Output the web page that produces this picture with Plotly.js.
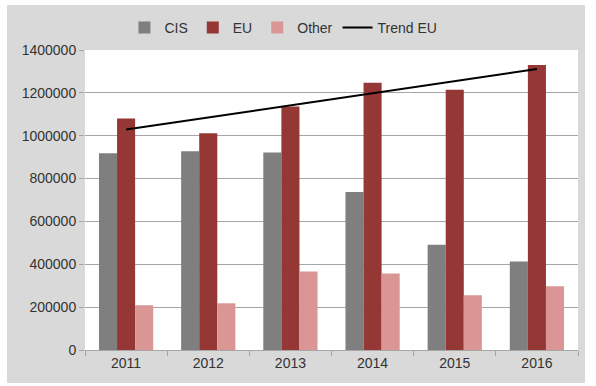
<!DOCTYPE html>
<html>
<head>
<meta charset="utf-8">
<script src="https://cdn.plot.ly/plotly-3.0.1.min.js"></script>
<style>
html,body{margin:0;padding:0;background:#fff;width:596px;height:386px;overflow:hidden;}
#chart{position:absolute;left:7px;top:5px;width:578px;height:378px;}
</style>
</head>
<body>
<div id="chart"></div>
<script>
const years = ['2011','2012','2013','2014','2015','2016'];
const cis = [918000, 927000, 922000, 737000, 491000, 413000];
const eu = [1080000, 1011000, 1136000, 1247000, 1215000, 1330000];
const other = [209000, 218000, 366000, 357000, 255000, 297000];
const trendYears = ['2011','2016'];
const trendEU = [1029000, 1311000];

const font = {family: 'Liberation Sans, Arial, sans-serif', size: 14, color: '#333333'};

const data = [
  {type:'bar', name:'CIS', x:years, y:cis, marker:{color:'#7f7f7f'}},
  {type:'bar', name:'EU', x:years, y:eu, marker:{color:'#953735'}},
  {type:'bar', name:'Other', x:years, y:other, marker:{color:'#d99694'}},
  {type:'scatter', mode:'lines', name:'Trend EU', x:trendYears, y:trendEU, line:{color:'#000000', width:2}}
];

const layout = {
  width: 578, height: 378,
  paper_bgcolor: '#d9d9d9',
  plot_bgcolor: '#ffffff',
  margin: {l:78, r:7, t:43, b:33},
  font: font,
  barmode: 'group',
  bargap: 0.34,
  bargroupgap: 0,
  showlegend: true,
  legend: {orientation:'h', x:0.08, xanchor:'left', y:1.02, yanchor:'bottom', bgcolor:'rgba(0,0,0,0)', font:font, traceorder:'normal', itemwidth:30},
  xaxis: {type:'category', tickfont:font, ticks:'outside', tickson:'boundaries', ticklen:5, tickcolor:'#a6a6a6', showline:true, linecolor:'#a6a6a6', showgrid:false},
  yaxis: {range:[0,1400000], dtick:200000, tickformat:'d', tickfont:font, showgrid:true, gridcolor:'#a6a6a6', gridwidth:1, ticks:'outside', ticklen:5, tickcolor:'#a6a6a6', showline:false, zeroline:false}
};

Plotly.newPlot('chart', data, layout, {displayModeBar:false, staticPlot:true});
</script>
</body>
</html>
